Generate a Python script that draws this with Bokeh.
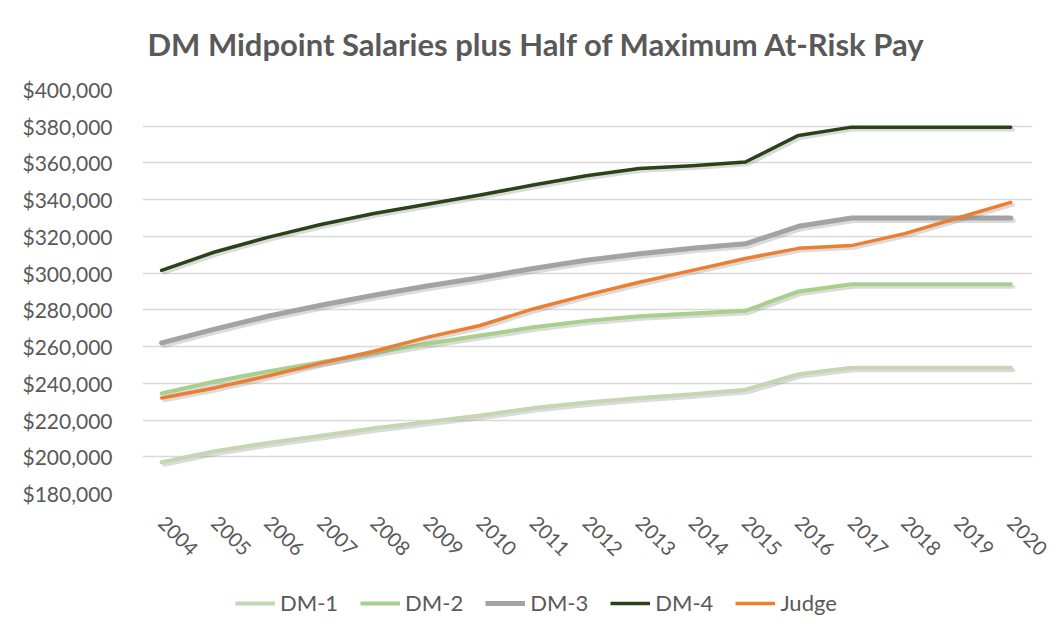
from bokeh.plotting import figure
from bokeh.models import (Range1d, FixedTicker, NumeralTickFormatter, Legend, LegendItem,
                          Title, ColumnDataSource)
from bokeh.layouts import column
from bokeh.embed import file_html
from bokeh.resources import INLINE
import math

years = list(range(2004, 2021))
dm1 = [197000, 203000, 207500, 211500, 215500, 219000, 222500, 226500, 229500, 232000,
       234000, 236500, 245000, 248500, 248500, 248500, 248500]
dm2 = [234500, 241000, 246500, 251500, 256500, 261500, 266000, 270500, 274000, 276500,
       278000, 279500, 290000, 294000, 294000, 294000, 294000]
dm3 = [262000, 269500, 276500, 282500, 288000, 293000, 297500, 302500, 307000, 310500,
       313500, 316000, 325500, 330000, 330000, 330000, 330000]
dm4 = [301500, 311500, 319500, 326500, 332500, 337500, 342500, 348000, 353000, 357000,
       358500, 360500, 375000, 379500, 379500, 379500, 379500]
judge = [232000, 237500, 244000, 251000, 257500, 265000, 271500, 280500, 288000, 295000,
         301500, 308000, 313500, 315000, 321500, 330000, 338500]

series_names = ["DM-1", "DM-2", "DM-3", "DM-4", "Judge"]
series_values = [dm1, dm2, dm3, dm4, judge]
y_ticks = list(range(180000, 400001, 20000))

colors = ["#c6d5b2", "#a9cf8c", "#a3a3a3", "#2b4219", "#ed7d31"]
widths = [4, 4, 5, 3.5, 3.5]

FONT = "Lato"
W, H, HL = 1055, 580, 56
FL, FR, FT, FB = 142, 1032, 89, 493

X0, X1 = 2003.64, 2020.41
p = figure(width=W, height=H, output_backend="svg", toolbar_location=None,
           x_range=Range1d(X0, X1), y_range=Range1d(180000, 400000),
           min_border_left=FL, min_border_right=W - FR, min_border_top=FT, min_border_bottom=H - FB,
           background_fill_color="white", border_fill_color="white")
p.outline_line_color = None
p.xgrid.grid_line_color = None
p.ygrid.grid_line_color = "#d9d9d9"
p.ygrid.grid_line_width = 1.3

# shadow ranges (a few pixels right/down)
dx = 2.5 * (X1 - X0) / (FR - FL)
dy = 2.5 * (400000 - 180000) / (FB - FT)
p.extra_x_ranges = {"sh": Range1d(X0 - dx, X1 - dx)}
p.extra_y_ranges = {"sh": Range1d(180000 + dy, 400000 + dy)}

sources = []
for name, vals, c, w in zip(series_names, series_values, colors, widths):
    src = ColumnDataSource(dict(x=years, y=vals))
    sources.append(src)
    p.line("x", "y", source=src, x_range_name="sh", y_range_name="sh",
           line_color="#7f7f7f", line_alpha=0.28, line_width=w, line_cap="round", line_join="round")
    p.line("x", "y", source=src, line_color=c, line_width=w, line_cap="round", line_join="round")

p.yaxis.ticker = FixedTicker(ticks=y_ticks)
p.yaxis.formatter = NumeralTickFormatter(format="$0,0")
p.yaxis.axis_line_color = None
p.yaxis.major_tick_line_color = None
p.yaxis.minor_tick_line_color = None
p.yaxis.major_tick_out = 0
p.yaxis.major_label_standoff = 30
p.yaxis.major_label_text_font = FONT
p.yaxis.major_label_text_font_size = "21px"
p.yaxis.major_label_text_color = "#595959"

p.xaxis.ticker = FixedTicker(ticks=years)
p.xaxis.axis_line_color = None
p.xaxis.major_tick_line_color = None
p.xaxis.minor_tick_line_color = None
p.xaxis.major_tick_out = 0
p.xaxis.major_label_standoff = 26
p.xaxis.major_label_orientation = -math.pi / 4
p.xaxis.major_label_text_font = FONT
p.xaxis.major_label_text_font_size = "20px"
p.xaxis.major_label_text_color = "#595959"

p.title = Title(text="DM Midpoint Salaries plus Half of Maximum At-Risk Pay",
                text_font=FONT, text_font_size="31px", text_font_style="bold",
                text_color="#595959", align="left", offset=5, standoff=49,
                vertical_align="top")

# legend strip below the chart (its lines use the same data, outside its visible range)
pl = figure(width=W, height=HL, output_backend="svg", toolbar_location=None,
            x_range=Range1d(0, 1), y_range=Range1d(0, 1),
            min_border_left=0, min_border_right=0, min_border_top=0, min_border_bottom=0,
            background_fill_color="white", border_fill_color="white")
pl.axis.visible = False
pl.grid.visible = False
pl.outline_line_color = None
items = []
for name, src, c, w in zip(series_names, sources, colors, widths):
    r = pl.line("x", "y", source=src, line_color=c, line_width=w)
    items.append(LegendItem(label=name, renderers=[r]))
legend = Legend(items=items, orientation="horizontal", location=(93, 20),
                padding=0, margin=0, spacing=22, glyph_width=40, glyph_height=20,
                label_standoff=5, label_text_font=FONT, label_text_font_size="22px",
                label_text_color="#595959", border_line_color=None,
                background_fill_alpha=0)
pl.add_layout(legend, "center")

layout = column(p, pl, spacing=0)
open("out.html", "w").write(file_html(layout, INLINE))
